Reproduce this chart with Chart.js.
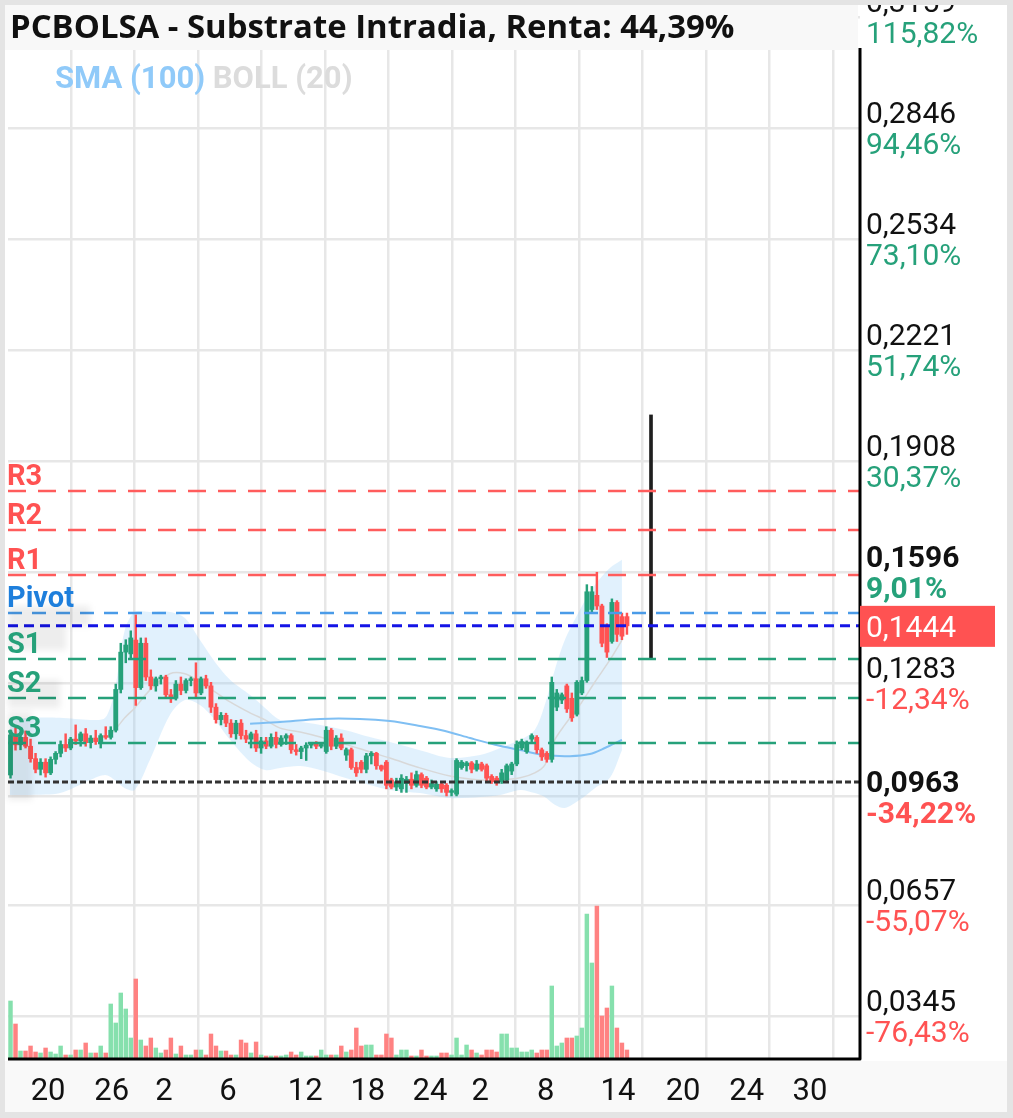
<!DOCTYPE html>
<html>
<head>
<meta charset="utf-8">
<script src="https://cdn.jsdelivr.net/npm/chart.js@4.4.0/dist/chart.umd.min.js"></script>
<style>
  html, body { margin: 0; padding: 0; background: #fff; }
  canvas { display: block; }
</style>
</head>
<body>
<canvas id="grafico" width="1013" height="1118"></canvas>
<script>
const titulo = 'PCBOLSA - Substrate Intradia, Renta: 44,39%';

// velas (una por posición, de izquierda a derecha)
const apertura = [
  .1024,.1137,.1109,.1130,.1105,.1070,.1040,.1060,.1030,.1068,
  .1085,.1110,.1100,.1125,.1120,.1140,.1115,.1128,.1118,.1135,
  .1130,.1150,.1265,.1370,.1365,.1404,.1270,.1395,.1300,.1275,
  .1295,.1300,.1250,.1240,.1280,.1262,.1290,.1295,.1255,.1295,
  .1275,.1215,.1180,.1192,.1170,.1140,.1170,.1135,.1125,.1140,
  .1100,.1120,.1105,.1130,.1110,.1128,.1135,.1095,.1090,.1100,
  .1108,.1112,.1105,.1090,.1150,.1105,.1128,.1080,.1095,.1045,
  .1060,.1040,.1078,.1085,.1050,.1060,.1010,.0990,.0985,.1000,
  .1012,.0995,.1025,.1015,.0990,.0985,.0998,.0995,.0975,.0970,
  .1045,.1050,.1058,.1040,.1055,.1050,.1020,.1015,.1005,.1010,
  .1035,.1055,.1100,.1090,.1125,.1130,.1095,.1085,.1068,.1215,
  .1235,.1275,.1240,.1195,.1255,.1290,.1490,.1530,.1500,.1445,
  .1400,.1510,.1470,.1470
];
const maximo = [
  .1151,.1157,.1145,.1148,.1125,.1085,.1070,.1070,.1075,.1090,
  .1120,.1140,.1130,.1165,.1145,.1155,.1135,.1150,.1140,.1160,
  .1160,.1280,.1395,.1405,.1430,.1475,.1410,.1410,.1320,.1300,
  .1305,.1305,.1265,.1290,.1300,.1295,.1300,.1340,.1300,.1305,
  .1285,.1225,.1200,.1198,.1180,.1178,.1180,.1150,.1145,.1150,
  .1130,.1130,.1140,.1145,.1135,.1140,.1140,.1110,.1105,.1115,
  .1115,.1118,.1115,.1160,.1155,.1135,.1140,.1100,.1100,.1060,
  .1065,.1085,.1090,.1088,.1052,.1065,.1015,.1015,.1025,.1020,
  .1030,.1035,.1030,.1020,.1010,.1005,.1005,.1000,.0985,.1070,
  .1065,.1062,.1062,.1065,.1060,.1055,.1025,.1020,.1040,.1055,
  .1060,.1120,.1125,.1120,.1140,.1135,.1100,.1090,.1300,.1265,
  .1255,.1280,.1255,.1290,.1300,.1560,.1555,.1595,.1505,.1450,
  .1520,.1515,.1480,.1480
];
const minimo = [
  .1015,.1094,.1095,.1100,.1060,.1030,.1024,.1018,.1025,.1055,
  .1075,.1090,.1095,.1110,.1105,.1105,.1100,.1110,.1100,.1125,
  .1125,.1145,.1255,.1340,.1350,.1220,.1265,.1290,.1265,.1260,
  .1280,.1240,.1228,.1235,.1250,.1255,.1275,.1240,.1250,.1268,
  .1200,.1170,.1165,.1160,.1130,.1125,.1125,.1115,.1100,.1090,
  .1085,.1098,.1100,.1100,.1105,.1110,.1085,.1080,.1070,.1065,
  .1100,.1098,.1100,.1085,.1095,.1098,.1095,.1065,.1040,.1020,
  .1030,.1030,.1055,.1040,.1035,.0985,.0985,.0980,.0975,.0975,
  .0985,.0990,.0988,.0985,.0985,.0978,.0975,.0965,.0965,.0965,
  .1040,.1035,.1030,.1035,.1035,.1005,.1000,.0995,.1000,.1005,
  .1025,.1050,.1095,.1085,.1118,.1085,.1065,.1060,.1060,.1205,
  .1225,.1200,.1175,.1190,.1250,.1285,.1480,.1490,.1385,.1355,
  .1395,.1400,.1405,.1420
];
const cierre = [
  .1137,.1109,.1130,.1105,.1070,.1040,.1060,.1030,.1068,.1085,
  .1110,.1100,.1125,.1120,.1140,.1115,.1128,.1118,.1135,.1130,
  .1150,.1265,.1370,.1390,.1410,.1270,.1395,.1300,.1275,.1295,
  .1300,.1250,.1240,.1280,.1262,.1290,.1295,.1255,.1295,.1275,
  .1215,.1180,.1192,.1170,.1140,.1170,.1135,.1125,.1140,.1100,
  .1120,.1105,.1130,.1110,.1128,.1135,.1095,.1090,.1100,.1108,
  .1112,.1105,.1110,.1150,.1105,.1128,.1100,.1095,.1045,.1030,
  .1040,.1078,.1085,.1050,.1040,.0995,.0990,.1005,.1015,.1012,
  .0995,.1025,.0995,.0990,.1000,.0998,.0985,.0975,.0980,.1065,
  .1060,.1058,.1040,.1055,.1040,.1015,.1005,.1005,.1030,.1050,
  .1055,.1110,.1118,.1115,.1135,.1095,.1075,.1068,.1285,.1255,
  .1250,.1210,.1185,.1285,.1290,.1540,.1540,.1500,.1395,.1370,
  .1510,.1420,.1415,.1444
];
const volumen = [
  57,34,7,7,12,6,5,10,6,4,
  12,3,3,8,8,15,5,5,12,5,
  54,35,65,49,20,79,18,12,20,10,
  5,8,20,4,12,3,3,8,8,3,
  24,12,7,7,3,3,18,15,5,16,
  3,2,2,2,2,3,6,3,6,2,
  2,2,8,3,3,3,12,6,8,30,
  12,13,13,3,3,24,20,3,8,8,
  2,2,8,2,2,2,5,5,3,20,
  3,13,8,5,3,8,8,6,24,24,
  10,10,6,6,8,5,8,8,72,12,
  15,20,20,22,30,144,95,152,42,50,
  72,30,15,8
];

// rango proyectado (barra negra a la derecha)
const rangoX = 128.3;
const rangoMin = 0.1351;
const rangoMax = 0.2038;

// bandas de Bollinger (20) y media
const bandaX = [0.4,4.4,10.4,16.4,19.4,21.3,23.3,25.3,28.3,32.3,35.3,38.3,41.3,44.3,48.3,51.3,54.3,58.3,
  62.3,67.2,72.2,76.2,82.2,88.2,94.2,98.2,102.2,105.1,107.1,109.1,111.1,114.1,117.1,120.1,122.5];
const bandaSup = [.1179,.1185,.1185,.1179,.1185,.1263,.1432,.1483,.1483,.1483,.1466,.1404,.1342,.1292,.1249,.1213,.1179,.1173,
  .1165,.1151,.1131,.1117,.1094,.1072,.1080,.1100,.1123,.1151,.1221,.1320,.1404,.1489,.1559,.1607,.1630];
const bandaInf = [.0968,.0968,.0973,.1010,.1024,.1010,.0987,.0982,.1066,.1193,.1235,.1221,.1179,.1123,.1061,.1038,.1044,.1049,
  .1038,.1016,.0996,.0982,.0973,.0959,.0962,.0968,.0982,.0973,.0962,.0940,.0931,.0954,.0987,.1016,.1094];
const bandaMed = [null,null,null,null,.1128,.1151,.1185,.1213,.1263,.1309,.1309,.1286,.1258,.1230,.1199,.1179,.1156,.1145,
  .1131,.1111,.1089,.1072,.1044,.1021,.1010,.1010,.1016,.1030,.1052,.1123,.1165,.1221,.1286,.1348,.1404];

// SMA (100)
const smaX = [48.3,54.3,62.3,70.2,76.2,82.2,87.2,92.2,97.2,102.2,107.1,112.1,116.1,119.1,122.5];
const smaY = [.1168,.1173,.1182,.1182,.1176,.1162,.1148,.1128,.1109,.1094,.1080,.1077,.1083,.1100,.1123];

// pivotes
const pivotes = ['R3','R2','R1','Pivot','S1','S2','S3'];
const valoresPivote = [0.1824, 0.1714, 0.1587, 0.1480, 0.1351, 0.1241, 0.1114];
const precioActual = 0.1444;
const precioBase = 0.1004;

// eje de precios (derecha)
const precios = [0.3159, 0.2846, 0.2534, 0.2221, 0.1908, 0.1596, 0.1283, 0.0963, 0.0657, 0.0345];
const etiquetasPrecio = ['0,3159','0,2846','0,2534','0,2221','0,1908','0,1596','0,1283','0,0963','0,0657','0,0345'];
const rentas = ['115,82%','94,46%','73,10%','51,74%','30,37%','9,01%','-12,34%','-34,22%','-55,07%','-76,43%'];
const destacados = [false,false,false,false,false,true,false,true,false,false];

// eje de fechas (abajo)
const dias = ['20','26','2','6','12','18','24','2','8','14','20','24','30'];
const posDias = [8.0, 20.7, 31.1, 43.9, 59.3, 71.8, 84.2, 94.2, 107.3, 121.7, 134.7, 147.4, 160.0];

const VERDE = '#26a17a';
const ROJO = '#ff5252';
const sube = i => cierre[i] >= apertura[i];

const velas = cierre.map((c, i) => ({ x: i + 0.5, y: [apertura[i], c] }));
const mechas = cierre.map((c, i) => ({ x: i + 0.5, y: [minimo[i], maximo[i]] }));
const barrasVol = volumen.map((v, i) => ({ x: i + 0.5, y: v }));

function linea(valor) {
  return [{ x: 0, y: valor }, { x: 170, y: valor }];
}

const conjuntos = [
  {
    type: 'line', label: 'BOLL sup',
    data: bandaX.map((x, i) => ({ x, y: bandaSup[i] })),
    borderColor: 'rgba(0,0,0,0)', pointRadius: 0, tension: 0.3,
    fill: '+1', backgroundColor: 'rgba(144,202,249,0.27)', order: 20
  },
  {
    type: 'line', label: 'BOLL inf',
    data: bandaX.map((x, i) => ({ x, y: bandaInf[i] })),
    borderColor: 'rgba(0,0,0,0)', pointRadius: 0, tension: 0.3, fill: false, order: 21
  },
  {
    type: 'line', label: 'BOLL med',
    data: bandaX.map((x, i) => ({ x, y: bandaMed[i] })).filter(p => p.y !== null),
    borderColor: '#d8d8d8', borderWidth: 1.5, pointRadius: 0, tension: 0.3, order: 9
  },
  {
    type: 'line', label: 'SMA (100)',
    data: smaX.map((x, i) => ({ x, y: smaY[i] })),
    borderColor: '#7fbff3', borderWidth: 2, pointRadius: 0, tension: 0.3, order: 8
  },
  {
    type: 'bar', label: 'volumen', data: barrasVol, yAxisID: 'yv', grouped: false,
    barThickness: 3.8,
    backgroundColor: c => sube(c.dataIndex) ? '#86e0ad' : '#ff8282', order: 6
  },
  {
    type: 'bar', label: 'mecha', data: mechas, grouped: false, barThickness: 1.8,
    backgroundColor: c => sube(c.dataIndex) ? VERDE : ROJO, order: 2
  },
  {
    type: 'bar', label: 'cuerpo', data: velas, grouped: false, barThickness: 4.2, minBarLength: 1.5,
    backgroundColor: c => sube(c.dataIndex) ? VERDE : ROJO, order: 1
  },
  {
    type: 'bar', label: 'rango', data: [{ x: rangoX, y: [rangoMin, rangoMax] }], grouped: false,
    barThickness: 3, backgroundColor: '#1e1e1e', order: 1
  }
];

// líneas de pivote
valoresPivote.forEach((v, i) => {
  const nombre = pivotes[i];
  let color = VERDE, guion = [18, 12];
  if (nombre[0] === 'R') color = '#ff5c5c';
  if (nombre === 'Pivot') { color = '#4a9be8'; guion = [14, 10]; }
  conjuntos.push({
    type: 'line', label: nombre, data: linea(v), borderColor: color, borderWidth: 2.5,
    borderDash: guion, pointRadius: 0, order: 0
  });
});
conjuntos.push({
  type: 'line', label: 'actual', data: linea(precioActual), borderColor: '#1414e6', borderWidth: 3,
  borderDash: [10, 6], pointRadius: 0, order: 0
});
conjuntos.push({
  type: 'line', label: 'base', data: linea(precioBase), borderColor: '#333', borderWidth: 3,
  borderDash: [6, 3], pointRadius: 0, order: 0
});

// ajusta el tamaño de letra para que el texto ocupe el ancho medido
function fuenteAjustada(c, texto, estilo, familia, tamBase, ancho) {
  c.font = estilo + ' ' + tamBase + 'px ' + familia;
  const tam = tamBase * ancho / c.measureText(texto).width;
  c.font = estilo + ' ' + tam.toFixed(1) + 'px ' + familia;
}

const decoracion = {
  id: 'decoracion',
  beforeDraw(chart) {
    const c = chart.ctx;
    c.save();
    c.fillStyle = '#ffffff';
    c.fillRect(0, 0, chart.width, chart.height);
    c.fillStyle = '#f9f9f9';
    c.fillRect(5, 1061, 1002, 51);
    c.restore();
  },
  afterDraw(chart) {
    const c = chart.ctx;
    const x = chart.scales.x;
    const y = chart.scales.y;
    c.save();

    // sombras de las etiquetas
    c.filter = 'blur(3px)';
    c.fillStyle = 'rgba(0,0,0,0.07)';
    c.fillRect(8, 606, 82, 20);
    c.fillRect(8, 626, 58, 24);
    c.fillRect(8, 680, 52, 28);
    c.fillRect(8, 712, 24, 88);
    c.filter = 'none';

    // ejes
    c.strokeStyle = '#000';
    c.lineWidth = 3;
    c.lineJoin = 'round';
    c.beginPath();
    c.moveTo(8, 1059);
    c.lineTo(860, 1059);
    c.lineTo(860, 48);
    c.stroke();

    // título
    c.fillStyle = '#f8f8f8';
    c.fillRect(5, 5, 853, 45);
    c.fillStyle = '#111';
    c.textBaseline = 'alphabetic';
    c.textAlign = 'left';
    fuenteAjustada(c, titulo, 'bold', '"Open Sans"', 27, 725);
    c.fillText(titulo, 10, 38);

    // leyenda
    c.font = 'bold 31px Roboto';
    c.fillStyle = '#90caf9';
    c.fillText('SMA (100)', 55, 88);
    const ancho = c.measureText('SMA (100) ').width;
    c.fillStyle = '#dcdcdc';
    c.fillText('BOLL (20)', 55 + ancho, 88);

    // nombres de pivotes
    c.font = 'bold 29px Roboto';
    valoresPivote.forEach((v, i) => {
      const nombre = pivotes[i];
      c.fillStyle = nombre[0] === 'R' ? '#ff5252' : (nombre === 'Pivot' ? '#1e7fdc' : VERDE);
      c.fillText(nombre, 7, y.getPixelForValue(v) - 6);
    });

    // etiquetas de precio y renta
    precios.forEach((p, i) => {
      const py = y.getPixelForValue(p);
      c.font = (destacados[i] ? 'bold ' : '') + '30px Roboto';
      c.fillStyle = '#111';
      c.fillText(etiquetasPrecio[i], 866, py - 5);
      c.fillStyle = rentas[i][0] === '-' ? '#ff5252' : VERDE;
      c.fillText(rentas[i], 866, py + 26);
    });

    // precio actual
    const pa = y.getPixelForValue(precioActual);
    c.fillStyle = '#ff5252';
    c.fillRect(860, pa - 20, 135, 41);
    c.fillStyle = '#fff';
    c.font = '30px Roboto';
    c.fillText('0,1444', 866, pa + 11);

    // fechas
    c.fillStyle = '#111';
    c.font = '31px Roboto';
    c.textAlign = 'center';
    dias.forEach((d, i) => c.fillText(d, x.getPixelForValue(posDias[i]), 1100));

    // marco
    c.fillStyle = '#e4e4e4';
    c.fillRect(0, 0, 1013, 5);
    c.fillRect(0, 0, 5, 1118);
    c.fillRect(1007, 0, 6, 1118);
    c.fillRect(0, 1112, 1013, 6);
    c.restore();
  }
};

const inicioRejilla = 12.57;
const pasoRejilla = 12.67;

const grafico = new Chart(document.getElementById('grafico'), {
  type: 'bar',
  data: { datasets: conjuntos },
  options: {
    responsive: false,
    animation: false,
    layout: { padding: { left: 8, right: 153, top: 8, bottom: 60 } },
    plugins: { legend: { display: false }, tooltip: { enabled: false } },
    scales: {
      x: {
        type: 'linear', min: 0, max: 170, offset: false,
        ticks: { display: false },
        grid: { color: '#e7e7e7', lineWidth: 2.5, drawTicks: false, offset: false },
        border: { display: false },
        afterBuildTicks: eje => {
          const t = [];
          for (let k = 0; k < 13; k++) t.push({ value: inicioRejilla + k * pasoRejilla });
          eje.ticks = t;
        }
      },
      y: {
        type: 'linear', position: 'right', min: 0.0227, max: 0.3184,
        ticks: { display: false },
        grid: { color: '#e7e7e7', lineWidth: 2.5, drawTicks: false },
        border: { display: false },
        afterBuildTicks: eje => { eje.ticks = precios.map(v => ({ value: v })); }
      },
      yv: { type: 'linear', display: false, min: 0, max: 1050 }
    }
  },
  plugins: [decoracion]
});
</script>
</body>
</html>
